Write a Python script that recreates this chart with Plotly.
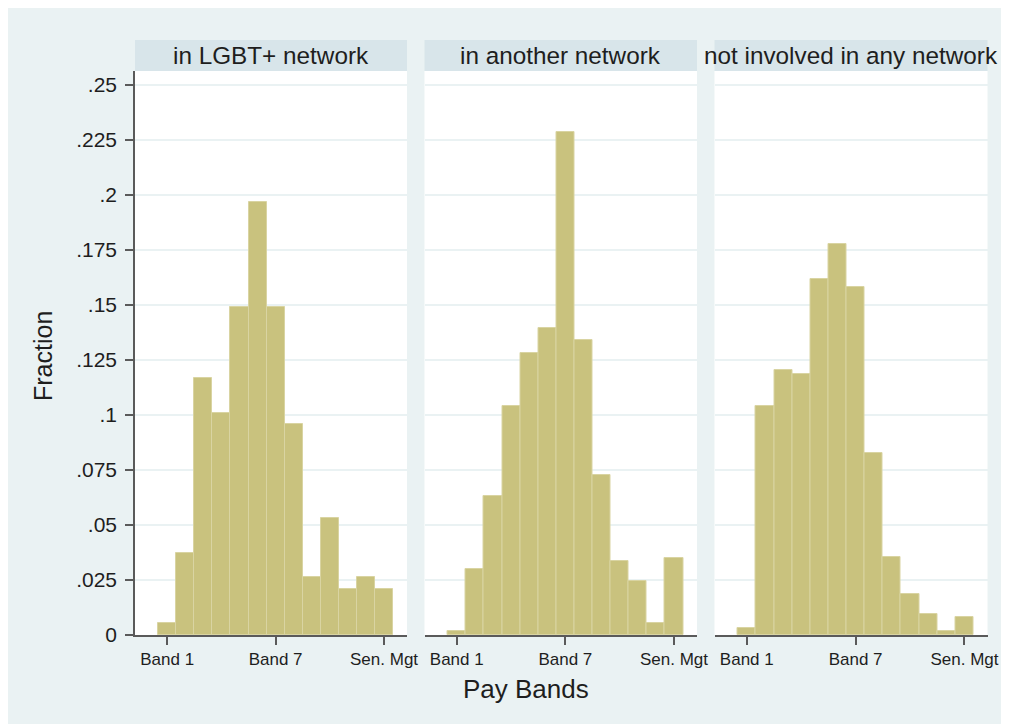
import plotly.graph_objects as go

# ---- data ----
band_pos = [1, 2, 3, 4, 5, 6, 7, 8, 9, 10, 11, 12, 13]
panel_titles = ["in LGBT+ network", "in another network", "not involved in any network"]
frac_lgbt = [0.0053, 0.0371, 0.1170, 0.1010, 0.1490, 0.1970, 0.1490, 0.0958, 0.0265, 0.0533, 0.0210, 0.0265, 0.0210]
frac_other = [0.0020, 0.0299, 0.0632, 0.1040, 0.1283, 0.1394, 0.2288, 0.1340, 0.0727, 0.0335, 0.0244, 0.0056, 0.0352]
frac_none = [0.0030, 0.1042, 0.1205, 0.1186, 0.1618, 0.1777, 0.1583, 0.0829, 0.0353, 0.0185, 0.0095, 0.0020, 0.0080]
x_tickvals = [1, 7, 13]
x_ticktext = ["Band 1", "Band 7", "Sen. Mgt"]
y_tickvals = [0, 0.025, 0.05, 0.075, 0.1, 0.125, 0.15, 0.175, 0.2, 0.225, 0.25]
y_ticktext = ["0", ".025", ".05", ".075", ".1", ".125", ".15", ".175", ".2", ".225", ".25"]

W, H = 1009, 724
FONT = "Liberation Sans, Arial, sans-serif"
TXT = "#1e1e1e"
BAR = "#C9C27E"
BAR_LINE = "#D9D4A2"
BG = "#EAF2F3"
STRIP = "#D8E5EA"
AXIS = "#5a5a5a"
OFF = 8  # page body margin


def px(x):
    return (x - OFF) / W


def py(y):
    return 1 - (y - OFF) / H


panels_px = [(135, 407), (424.5, 697), (714.5, 987.5)]
plot_top, plot_bot = 71, 635
strip_top = 40

fig = go.Figure()
series = [frac_lgbt, frac_other, frac_none]
for i, vals in enumerate(series):
    fig.add_trace(go.Bar(
        x=band_pos, y=vals, width=1,
        marker=dict(color=BAR, line=dict(color=BAR_LINE, width=1)),
        xaxis="x" if i == 0 else f"x{i+1}",
        yaxis="y" if i == 0 else f"y{i+1}",
        showlegend=False, hoverinfo="x+y",
    ))

layout = dict(
    width=W, height=H,
    margin=dict(l=0, r=0, t=0, b=0),
    paper_bgcolor=BG,
    plot_bgcolor="white",
    bargap=0,
    font=dict(family=FONT, color=TXT),
    shapes=[], annotations=[],
)

for i, (x0, x1) in enumerate(panels_px):
    xa = "xaxis" if i == 0 else f"xaxis{i+1}"
    ya = "yaxis" if i == 0 else f"yaxis{i+1}"
    yname = "y" if i == 0 else f"y{i+1}"
    xname = "x" if i == 0 else f"x{i+1}"
    layout[xa] = dict(
        domain=[px(x0), px(x1)], anchor=yname,
        range=[-0.78, 14.27], showgrid=False, zeroline=False,
        tickmode="array", tickvals=x_tickvals, ticktext=x_ticktext,
        ticks="outside", ticklen=8, tickwidth=1.5, tickcolor=AXIS,
        showline=True, linecolor=AXIS, linewidth=1.5,
        tickfont=dict(size=17, family=FONT, color=TXT),
        fixedrange=True, automargin=False,
    )
    layout[ya] = dict(
        domain=[py(plot_bot), py(plot_top)], anchor=xname,
        range=[0, (plot_bot - plot_top) / 2200.0],
        showgrid=True, gridcolor=BG, gridwidth=1.5, zeroline=False,
        tickmode="array", tickvals=y_tickvals, ticktext=y_ticktext,
        showticklabels=(i == 0),
        ticks="outside" if i == 0 else "", ticklen=8, tickwidth=1.5, tickcolor=AXIS,
        showline=(i == 0), linecolor=AXIS, linewidth=1.5,
        tickfont=dict(size=21, family=FONT, color=TXT),
        ticklabelstandoff=4,
        fixedrange=True, automargin=False,
    )
    if i > 0:
        layout[ya]["matches"] = "y"
    # strip header
    layout["shapes"].append(dict(
        type="rect", xref="paper", yref="paper", layer="below",
        x0=px(x0), x1=px(x1), y0=py(plot_top), y1=py(strip_top),
        fillcolor=STRIP, line=dict(width=0),
    ))
    layout["annotations"].append(dict(
        text=panel_titles[i], xref="paper", yref="paper",
        x=px((x0 + x1) / 2), y=py((strip_top + plot_top) / 2),
        xanchor="center", yanchor="middle", showarrow=False,
        font=dict(size=24.3, family=FONT, color=TXT),
    ))

# axis titles
layout["annotations"].append(dict(
    text="Fraction", xref="paper", yref="paper",
    x=px(43), y=py(356), textangle=-90,
    xanchor="center", yanchor="middle", showarrow=False,
    font=dict(size=25, family=FONT, color=TXT),
))
layout["annotations"].append(dict(
    text="Pay Bands", xref="paper", yref="paper",
    x=px(526), y=py(689),
    xanchor="center", yanchor="middle", showarrow=False,
    font=dict(size=26, family=FONT, color=TXT),
))

fig.update_layout(**layout)
fig.write_html("out.html")
